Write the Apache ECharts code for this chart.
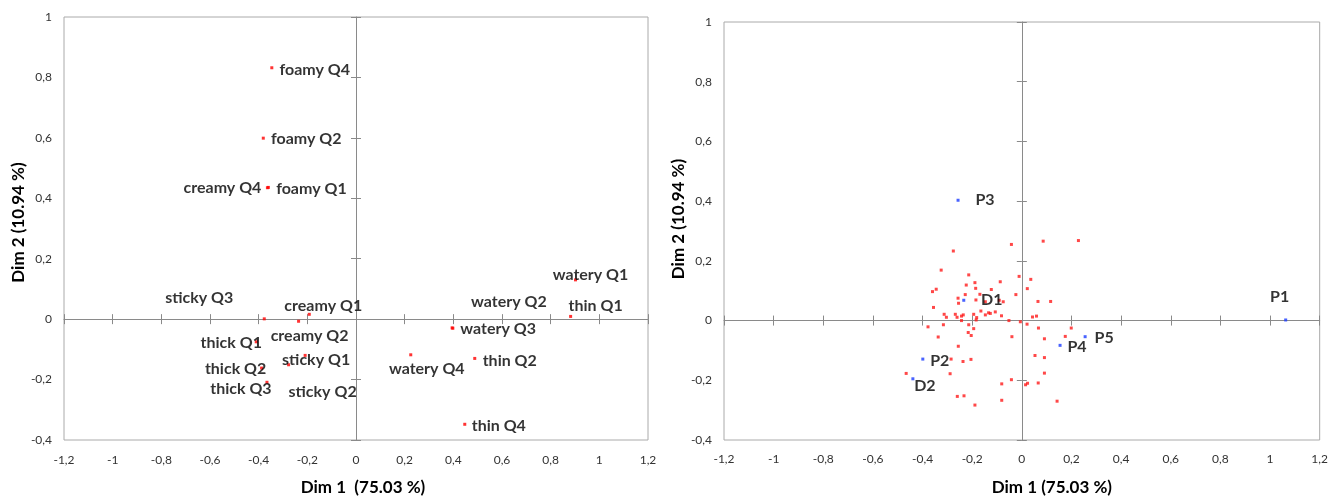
<!DOCTYPE html>
<html>
<head>
<meta charset="utf-8">
<script src="https://cdn.jsdelivr.net/npm/echarts@6/dist/echarts.min.js"></script>
<style>
html,body{margin:0;padding:0;background:#fff;}
#chart{width:1331px;height:501px;}
</style>
</head>
<body>
<div id="chart"></div>
<script>
// ---------- DATA ----------
// Left map: attribute x quartile terms
const attrNames = ['foamy Q4','foamy Q2','creamy Q4','foamy Q1','sticky Q3','creamy Q1','creamy Q2','thick Q1','thick Q2','thick Q3','sticky Q1','sticky Q2','watery Q1','thin Q1','watery Q2','watery Q3','watery Q4','thin Q2','thin Q4'];
const attrDim1 = [-0.346,-0.381,-0.364,-0.360,-0.377,-0.192,-0.236,-0.410,-0.388,-0.366,-0.209,-0.277,0.902,0.882,0.398,0.395,0.225,0.488,0.447];
const attrDim2 = [0.832,0.599,0.435,0.436,0.001,0.016,-0.007,-0.075,-0.162,-0.209,-0.120,-0.151,0.130,0.009,-0.030,-0.029,-0.118,-0.130,-0.348];

// Right map: products (blue, labelled)
const prodNames = ['P1','P2','P3','P4','P5','D1','D2'];
const prodDim1 = [1.063,-0.399,-0.257,0.154,0.255,-0.234,-0.439];
const prodDim2 = [0.002,-0.129,0.403,-0.083,-0.054,0.068,-0.195];

// Right map: consumers (red)
const consDim1 = [-0.276,-0.325,-0.214,-0.224,-0.345,-0.360,-0.228,-0.189,-0.186,-0.169,
  -0.257,-0.185,-0.255,-0.356,-0.147,-0.313,-0.304,-0.268,-0.261,-0.243,
  -0.236,-0.194,-0.182,-0.165,-0.147,-0.134,-0.127,-0.107,-0.082,-0.042,
  0.086,0.228,-0.011,0.036,-0.087,0.022,-0.123,-0.024,0.065,0.116,
  -0.091,-0.075,-0.052,-0.006,0.021,0.043,0.059,0.067,0.199,0.091,
  -0.040,0.175,0.053,0.091,0.091,-0.378,-0.316,-0.243,-0.214,-0.337,
  -0.216,-0.256,-0.285,-0.237,-0.289,-0.466,-0.260,-0.233,-0.189,-0.194,
  -0.184,-0.204,-0.205,-0.081,-0.042,0.015,0.023,0.066,-0.081,0.142];
const consDim2 = [0.233,0.169,0.153,0.119,0.105,0.097,0.087,0.127,0.108,0.088,
  0.075,0.069,0.058,0.044,0.063,0.021,0.011,0.021,0.011,0.015,
  0.019,0.021,0.010,0.032,0.019,0.026,0.024,0.029,0.016,0.255,
  0.266,0.268,0.148,0.138,0.130,0.107,0.104,0.087,0.064,0.064,
  0.068,0.063,0.000,-0.004,-0.012,0.012,0.015,-0.025,-0.025,-0.061,
  -0.054,-0.053,-0.117,-0.124,-0.176,-0.021,-0.014,0.000,-0.014,-0.055,
  -0.040,-0.086,-0.129,-0.137,-0.178,-0.177,-0.254,-0.252,-0.283,-0.027,
  0.002,-0.050,-0.130,-0.212,-0.198,-0.215,-0.210,-0.209,-0.267,-0.270];

// Tick labels
const xTickLabels = ['-1,2','-1','-0,8','-0,6','-0,4','-0,2','0','0,2','0,4','0,6','0,8','1','1,2'];
const yTickLabels = ['-0,4','-0,2','0','0,2','0,4','0,6','0,8','1'];
const xAxisName = ['Dim 1  (75.03 %)', 'Dim 1 (75.03 %)'];
const yAxisName = 'Dim 2 (10.94 %)';

// ---------- LAYOUT (label placement, pixels) ----------
const attrLabelOffset = {
  'foamy Q4':[43,2],'foamy Q2':[43,1],'creamy Q4':[-45,0],'foamy Q1':[43,1],
  'sticky Q3':[-65,-21],'creamy Q1':[14,-8],'creamy Q2':[11,15],
  'thick Q1':[-25,1],'thick Q2':[-26,1],'thick Q3':[-26,7],
  'sticky Q1':[11,4],'sticky Q2':[34,27],'watery Q1':[15,-5],'thin Q1':[25,-11],
  'watery Q2':[56,-26],'watery Q3':[46,1],'watery Q4':[16,14],'thin Q2':[35,2],'thin Q4':[34,2]
};
const prodLabelOffset = {
  'P1':[-6,-23],'P2':[17,2],'P3':[27,0],'P4':[17,1],'P5':[19,1],'D1':[28,0],'D2':[12,7]
};

const X_MIN=-1.2, X_MAX=1.2, Y_MIN=-0.4, Y_MAX=1, STEP=0.2;
const FONT='Lato';
const tickColor='#333';
const axisGray='#8a8a8a';

function xLab(v){ return xTickLabels[Math.round((v-X_MIN)/STEP)] ?? ''; }
function yLab(v){ return yTickLabels[Math.round((v-Y_MIN)/STEP)] ?? ''; }

const grids = [
  {left:64, top:17, width:584, height:429},
  {left:724, top:22, width:598, height:425}
];

const xAxes=[], yAxes=[];
grids.forEach((g,gi)=>{
  const base = gi*3;
  xAxes.push({
    gridIndex:gi, type:'value', min:X_MIN, max:X_MAX, interval:STEP, position:'bottom',
    axisLine:{show:false,onZero:false}, axisTick:{show:false}, splitLine:{show:false},
    axisLabel:{margin: gi===0?14:13, color:tickColor, fontSize:12, fontFamily:FONT, formatter:xLab},
    name:xAxisName[gi], nameLocation:'middle', nameGap:39,
    nameTextStyle:{fontFamily:FONT, fontWeight:'bold', fontSize:17, color:'#000', padding: gi===0?[0,0,0,14]:[0,0,0,60]}
  });
  xAxes.push({
    gridIndex:gi, type:'value', min:X_MIN, max:X_MAX, interval:STEP, position:'bottom',
    axisLine:{show:true,onZero:true,onZeroAxisIndex:base,lineStyle:{color:axisGray,width:1}},
    axisTick:{show:true,length:5,inside:false,lineStyle:{color:axisGray}},
    axisLabel:{show:false}, splitLine:{show:false}
  });
  xAxes.push({
    gridIndex:gi, type:'value', min:X_MIN, max:X_MAX, interval:STEP, position:'bottom',
    axisLine:{show:false,onZero:true,onZeroAxisIndex:base},
    axisTick:{show:true,length:5,inside:true,lineStyle:{color:axisGray}},
    axisLabel:{show:false}, splitLine:{show:false}
  });
  yAxes.push({
    gridIndex:gi, type:'value', min:Y_MIN, max:Y_MAX, interval:STEP, position:'left',
    axisLine:{show:false,onZero:false}, axisTick:{show:false}, splitLine:{show:false},
    axisLabel:{margin:12, color:tickColor, fontSize:12, fontFamily:FONT, formatter:yLab},
    name:yAxisName, nameLocation:'middle', nameGap: gi===0?36:34,
    nameTextStyle:{fontFamily:FONT, fontWeight:'bold', fontSize:17, color:'#000', padding: gi===0?[0,0,0,12]:[0,0,0,24]}
  });
  yAxes.push({
    gridIndex:gi, type:'value', min:Y_MIN, max:Y_MAX, interval:STEP, position:'left',
    axisLine:{show:true,onZero:true,onZeroAxisIndex:base,lineStyle:{color:axisGray,width:1}},
    axisTick:{show:true,length:5,inside:false,lineStyle:{color:axisGray}},
    axisLabel:{show:false}, splitLine:{show:false}
  });
  yAxes.push({
    gridIndex:gi, type:'value', min:Y_MIN, max:Y_MAX, interval:STEP, position:'left',
    axisLine:{show:false,onZero:true,onZeroAxisIndex:base},
    axisTick:{show:true,length:5,inside:true,lineStyle:{color:axisGray}},
    axisLabel:{show:false}, splitLine:{show:false}
  });
});

const labelStyle = {fontFamily:FONT, fontWeight:'bold', fontSize:16, color:'#000'};

const attrData = attrNames.map((n,i)=>({
  name:n, value:[attrDim1[i], attrDim2[i]],
  label:{show:true, position:'inside', offset:attrLabelOffset[n]||[0,0], formatter:n, ...labelStyle}
}));
const prodData = prodNames.map((n,i)=>({
  name:n, value:[prodDim1[i], prodDim2[i]],
  label:{show:true, position:'inside', offset:prodLabelOffset[n]||[0,0], formatter:n, ...labelStyle}
}));
const consData = consDim1.map((x,i)=>[x, consDim2[i]]);

const option = {
  animation:false,
  backgroundColor:'#fff',
  grid: grids.map(g=>({...g, show:true, borderColor:'#aaaaaa', borderWidth:1, backgroundColor:'transparent'})),
  xAxis:xAxes,
  yAxis:yAxes,
  series:[
    {type:'scatter', xAxisIndex:0, yAxisIndex:0, symbol:'rect', symbolSize:3, itemStyle:{color:'#ff0000'}, data:attrData, z:3},
    {type:'scatter', xAxisIndex:3, yAxisIndex:3, symbol:'rect', symbolSize:3, itemStyle:{color:'#ff1a1a'}, data:consData, z:3},
    {type:'scatter', xAxisIndex:3, yAxisIndex:3, symbol:'rect', symbolSize:3, itemStyle:{color:'#1c3cff'}, data:prodData, z:4}
  ]
};

const chart = echarts.init(document.getElementById('chart'), null, {renderer:'canvas'});
chart.setOption(option);
</script>
</body>
</html>
